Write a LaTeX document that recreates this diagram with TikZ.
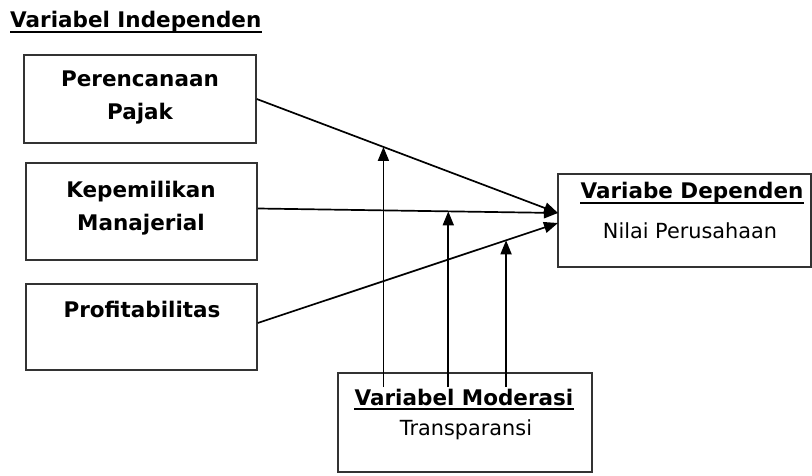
\documentclass[tikz,border=0pt]{standalone}
\usepackage{fontspec}
\setmainfont{DejaVu Sans}
\usetikzlibrary{arrows.meta,calc}
\tikzset{
  box/.style={draw=black!80, line width=1.5pt, inner sep=0pt},
  lbl/.style={anchor=base, inner sep=0pt},
  bt/.style={lbl, font=\fontsize{21.5}{25}\selectfont\bfseries},
  rt/.style={lbl, font=\fontsize{20.8}{25}\selectfont},
  conn/.style={line width=1.7pt, -{Triangle[length=14pt,width=11pt]}},
  ulin/.style={line width=1.8pt},
}
\newcommand{\ulbelow}[1]{\draw[ulin] ([yshift=-4pt]#1.base west) -- ([yshift=-4pt]#1.base east);}
\begin{document}
\begin{tikzpicture}[x=1pt,y=-1pt]
\useasboundingbox[fill=white] (0,0) rectangle (812,476);
% boxes
\node[box, minimum width=232pt, minimum height=88pt] (b1) at (140,99) {};
\node[box, minimum width=231pt, minimum height=97pt] (b2) at (141.5,211.5) {};
\node[box, minimum width=231pt, minimum height=86pt] (b3) at (141.5,327) {};
\node[box, minimum width=253pt, minimum height=93pt] (dep) at (684.5,220.5) {};
\node[box, minimum width=254pt, minimum height=99pt] (mod) at (465,422.5) {};
% texts
\node[bt, anchor=base west] (title) at (10,28) {Variabel Independen};
\node[bt] (t1a) at (140,87) {Perencanaan};
\node[bt] (t1b) at (140,120) {Pajak};
\node[bt] (t2a) at (141,197) {Kepemilikan};
\node[bt] (t2b) at (141,230) {Manajerial};
\node[bt] (t3a) at (142,317) {Profitabilitas};
\node[bt] (tda) at (692,199) {Variabe Dependen};
\node[rt] (tdb) at (690,238) {Nilai Perusahaan};
\node[bt] (tma) at (464,405) {Variabel Moderasi};
\node[rt] (tmb) at (466,435) {Transparansi};
\ulbelow{title}
\ulbelow{tda}
\ulbelow{tma}
% connectors
\coordinate (e1) at (558,213);
\coordinate (e2) at (558,213);
\coordinate (e3) at (558,223);
\coordinate (s1) at (b1.east);
\coordinate (s2) at ($(b2.east)+(0,-3)$);
\coordinate (s3) at ($(b3.east)+(0,-4)$);
\draw[conn] (s1) -- (e1) coordinate[pos=0.4205] (p1);
\draw[conn] (s2) -- (e2) coordinate[pos=0.6346] (p2);
\draw[conn] (s3) -- (e3) coordinate[pos=0.827] (p3);
\coordinate (ms) at (465,387);
\draw[conn] (p1 |- ms) -- (p1);
\draw[conn] (p2 |- ms) -- (p2);
\draw[conn] (p3 |- ms) -- (p3);
\end{tikzpicture}
\end{document}
